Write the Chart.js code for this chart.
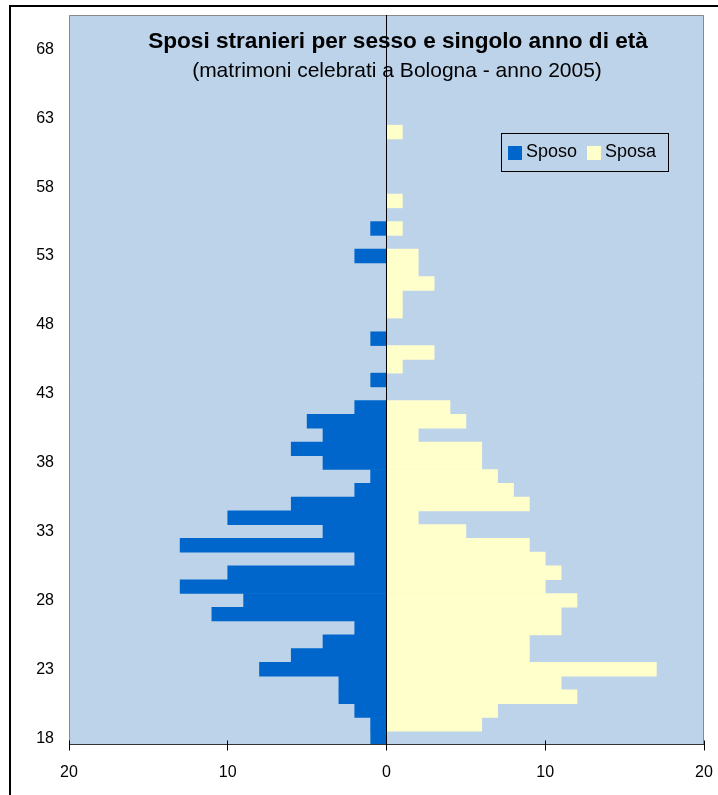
<!DOCTYPE html>
<html>
<head>
<meta charset="utf-8">
<title>Sposi stranieri per sesso e singolo anno di età</title>
<script src="https://cdn.jsdelivr.net/npm/chart.js@4.4.1/dist/chart.umd.min.js"></script>
<style>
  html, body { margin: 0; padding: 0; background: #fff; }
  #wrap { position: relative; width: 718px; height: 795px; overflow: hidden; }
  #frame { position: absolute; left: 9px; top: 5px; width: 800px; height: 900px;
           border-left: 2px solid #000; border-top: 2px solid #000; }
  #pyramid { position: absolute; left: 0; top: 0; }
</style>
</head>
<body>
<div id="wrap">
  <div id="frame"></div>
  <canvas id="pyramid" width="718" height="795"></canvas>
</div>
<script>
const ages = ['18','19','20','21','22','23','24','25','26','27','28','29','30','31','32','33','34',
  '35','36','37','38','39','40','41','42','43','44','45','46','47','48','49','50','51','52','53',
  '54','55','56','57','58','59','60','61','62','63','64','65','66','67','68','69','70'];

// grooms (drawn to the left)
const sposo = [1, 1, 2, 3, 3, 8, 6, 4, 2, 11, 9, 13, 10, 2, 13, 4, 10,
  6, 2, 1, 4, 6, 4, 5, 2, 0, 1, 0, 0, 1, 0, 0, 0, 0, 0, 2,
  0, 1, 0, 0, 0, 0, 0, 0, 0, 0, 0, 0, 0, 0, 0, 0, 0];

// brides (drawn to the right)
const sposa = [0, 6, 7, 12, 11, 17, 9, 9, 11, 11, 12, 10, 11, 10, 9, 5, 2,
  9, 8, 7, 6, 6, 2, 5, 4, 0, 0, 1, 3, 0, 0, 1, 1, 3, 2, 2,
  0, 1, 0, 1, 0, 0, 0, 0, 1, 0, 0, 0, 0, 0, 0, 0, 0];

const yTickLabels = ['18', '23', '28', '33', '38', '43', '48', '53', '58', '63', '68'];

const title = 'Sposi stranieri per sesso e singolo anno di età';
const subtitle = '(matrimoni celebrati a Bologna - anno 2005)';

const PLOT_BG = '#BDD3EA';
const SPOSO_COLOR = '#0066CC';
const SPOSA_COLOR = '#FFFFCC';
const FONT = '"Liberation Sans", Arial, sans-serif';

Chart.defaults.font.family = FONT;
Chart.defaults.color = '#000';

const plotFrame = {
  id: 'plotFrame',
  beforeDraw(chart) {
    const { ctx, chartArea: a } = chart;
    ctx.save();
    ctx.fillStyle = PLOT_BG;
    ctx.fillRect(a.left, a.top, a.right - a.left, a.bottom - a.top);
    ctx.restore();
  },
  afterDatasetsDraw(chart) {
    const { ctx, chartArea: a, scales: { x } } = chart;
    ctx.save();
    ctx.lineWidth = 1;

    // grey frame round the plot
    ctx.strokeStyle = '#8a8a8a';
    ctx.beginPath();
    ctx.moveTo(a.left + 0.5, a.bottom);
    ctx.lineTo(a.left + 0.5, a.top + 0.5);
    ctx.lineTo(a.right - 0.5, a.top + 0.5);
    ctx.lineTo(a.right - 0.5, a.bottom);
    ctx.stroke();

    // zero line
    const x0 = Math.floor(x.getPixelForValue(0)) + 0.5;
    ctx.strokeStyle = '#000';
    ctx.beginPath();
    ctx.moveTo(x0, a.top);
    ctx.lineTo(x0, a.bottom);
    ctx.stroke();

    // bottom axis with crossing ticks
    const yb = Math.round(a.bottom) - 0.5;
    ctx.strokeStyle = '#333';
    ctx.beginPath();
    ctx.moveTo(a.left, yb);
    ctx.lineTo(a.right, yb);
    ctx.stroke();
    ctx.strokeStyle = '#000';
    x.ticks.forEach(t => {
      const px = Math.floor(x.getPixelForValue(t.value)) + 0.5;
      ctx.beginPath();
      ctx.moveTo(px, yb - 4);
      ctx.lineTo(px, yb + 6);
      ctx.stroke();
    });
    ctx.restore();
  },
  afterDraw(chart) {
    const { ctx, chartArea: a } = chart;
    ctx.save();
    ctx.fillStyle = '#000';
    ctx.textAlign = 'center';
    ctx.textBaseline = 'alphabetic';
    ctx.font = 'bold 22.6px ' + FONT;
    ctx.fillText(title, 398, a.top + 33);
    ctx.font = '21px ' + FONT;
    ctx.fillText(subtitle, 397, a.top + 62);

    // legend
    const lx = a.right - 203, ly = a.top + 118;
    ctx.strokeStyle = '#000';
    ctx.lineWidth = 1;
    ctx.strokeRect(lx + 0.5, ly + 0.5, 167, 38);
    ctx.font = '18px ' + FONT;
    ctx.textAlign = 'left';
    chart.data.datasets.forEach((ds, i) => {
      const sx = lx + 7 + i * 79;
      ctx.fillStyle = ds.backgroundColor;
      ctx.fillRect(sx, ly + 13, 14, 14);
      ctx.fillStyle = '#000';
      ctx.fillText(ds.label, sx + 18, ly + 24);
    });
    ctx.restore();
  }
};

new Chart(document.getElementById('pyramid'), {
  type: 'bar',
  data: {
    labels: ages,
    datasets: [
      {
        label: 'Sposo',
        data: sposo.map(v => -v),
        backgroundColor: SPOSO_COLOR,
        borderWidth: 0,
        barPercentage: 1,
        categoryPercentage: 1
      },
      {
        label: 'Sposa',
        data: sposa,
        backgroundColor: SPOSA_COLOR,
        borderWidth: 0,
        barPercentage: 1,
        categoryPercentage: 1
      }
    ]
  },
  options: {
    indexAxis: 'y',
    responsive: false,
    animation: false,
    layout: { padding: { left: 0, right: 14, top: 15, bottom: 0 } },
    plugins: {
      legend: { display: false },
      tooltip: { enabled: false }
    },
    scales: {
      x: {
        stacked: true,
        min: -20,
        max: 20,
        ticks: {
          stepSize: 10,
          padding: 18,
          color: '#000',
          font: { size: 16 },
          callback: v => Math.abs(v)
        },
        grid: { display: false, drawTicks: false },
        border: { display: false },
        afterFit: s => { s.height = 50; s.paddingLeft = 0; s.paddingRight = 0; }
      },
      y: {
        stacked: true,
        reverse: true,
        ticks: {
          autoSkip: false,
          padding: 15,
          color: '#000',
          font: { size: 16 },
          callback: (v, i) => yTickLabels.includes(ages[i]) ? ages[i] : ''
        },
        grid: { display: false, drawTicks: false },
        border: { display: false },
        afterFit: s => { s.width = 69; s.paddingTop = 0; s.paddingBottom = 0; }
      }
    }
  },
  plugins: [plotFrame]
});
</script>
</body>
</html>
